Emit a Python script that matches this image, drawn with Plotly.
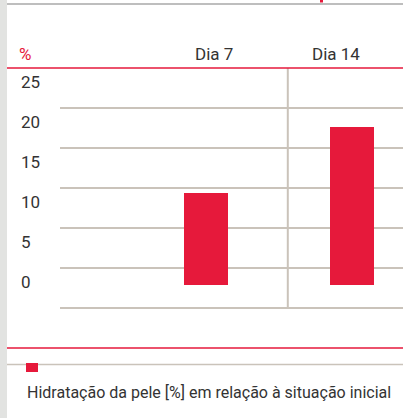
import plotly.graph_objects as go

# ---- data ----
categories = ["Dia 7", "Dia 14"]
values = [11.5, 19.8]
tick_vals = [0, 5, 10, 15, 20, 25]
tick_text = ["0", "5", "10", "15", "20", "25"]
unit_label = "%"
legend_label = "Hidratação da pele [%] em relação à situação inicial"

RED = "#e6193b"
GRID = "#cac3ba"
TEXT = "#333333"
FONT = "Roboto"

W, H = 403, 418
plot_top, plot_bot = 68, 312
plot_left = 60
PX_PER_UNIT = 8.0
zero_px = 285

y_range = [(zero_px - plot_bot) / PX_PER_UNIT, (zero_px - plot_top) / PX_PER_UNIT]
grid_vals = [v - 2.875 for v in tick_vals]
top_val = (zero_px - plot_top) / PX_PER_UNIT
x_range = [-1.0, 1.349]

fig = go.Figure()
fig.add_trace(go.Bar(x=categories, y=values, marker=dict(color=RED, line=dict(width=0)),
                     width=0.30, showlegend=False, hoverinfo="skip"))
fig.add_trace(go.Scatter(x=[], y=[], yaxis="y2", showlegend=False))

ydom = [(H - plot_bot) / H, (H - plot_top) / H]

def py(p):
    return (H - p) / H

def px(p):
    return p / W

shapes = [
    # left gray strip
    dict(type="rect", xref="paper", yref="paper", x0=0, x1=px(7), y0=0, y1=1,
         fillcolor="#e2e3e1", line=dict(width=0), layer="below"),
    # top gray line
    dict(type="line", xref="paper", yref="paper", x0=px(7), x1=1, y0=py(4), y1=py(4),
         line=dict(color="#a9a9a9", width=1.5)),
    dict(type="rect", xref="paper", yref="paper", x0=px(320), x1=px(323), y0=py(2.5), y1=1,
         fillcolor=RED, line=dict(width=0)),
    # header red line
    dict(type="line", xref="paper", yref="paper", x0=px(7), x1=1, y0=py(plot_top), y1=py(plot_top),
         line=dict(color=RED, width=1.5)),
    # vertical divider
    dict(type="line", xref="x", yref="y", x0=0.56, x1=0.56, y0=grid_vals[0], y1=top_val,
         line=dict(color=GRID, width=2), layer="below"),
    # legend lines
    dict(type="line", xref="paper", yref="paper", x0=px(7), x1=1, y0=py(348), y1=py(348),
         line=dict(color=RED, width=1.5)),
    dict(type="line", xref="paper", yref="paper", x0=px(7), x1=1, y0=py(364.5), y1=py(364.5),
         line=dict(color=GRID, width=1.5)),
    dict(type="rect", xref="paper", yref="paper", x0=px(26), x1=px(38), y0=py(372), y1=py(363),
         fillcolor=RED, line=dict(width=0)),
]

header_x = [214, 336]
annotations = [
    dict(text=unit_label, xref="paper", yref="paper", x=px(17), y=py(54), xanchor="left",
         yanchor="middle", showarrow=False, font=dict(family=FONT, size=17, color=RED)),
    dict(text=legend_label, xref="paper", yref="paper", x=px(25), y=py(392), xanchor="left",
         yanchor="middle", showarrow=False, font=dict(family=FONT, size=16, color=TEXT)),
]
for c, hx in zip(categories, header_x):
    annotations.append(dict(text=c, xref="paper", yref="paper", x=px(hx), y=py(54),
                            xanchor="center", yanchor="middle", showarrow=False,
                            font=dict(family=FONT, size=17, color=TEXT)))

fig.update_layout(
    width=W, height=H,
    margin=dict(l=0, r=0, t=0, b=0),
    paper_bgcolor="white", plot_bgcolor="white",
    font=dict(family=FONT, color=TEXT),
    bargap=0,
    xaxis=dict(domain=[px(plot_left), 1], type="category", range=x_range,
               showticklabels=False, showgrid=False, zeroline=False, showline=False, ticks=""),
    yaxis=dict(domain=ydom, range=y_range, tickvals=grid_vals, showticklabels=False,
               showgrid=True, gridcolor=GRID, gridwidth=1.5, zeroline=False, showline=False,
               ticks=""),
    yaxis2=dict(overlaying="y", anchor="free", position=px(17), side="left",
                range=[r - 0.4 for r in y_range], tickvals=tick_vals, ticktext=tick_text,
                ticklabelposition="inside", showgrid=False, zeroline=False, showline=False,
                ticks="", tickfont=dict(family=FONT, size=17, color=TEXT)),
    shapes=shapes,
    annotations=annotations,
)

fig.write_html("out.html", config={"displayModeBar": False},
               post_script="document.body.style.margin='0';")
